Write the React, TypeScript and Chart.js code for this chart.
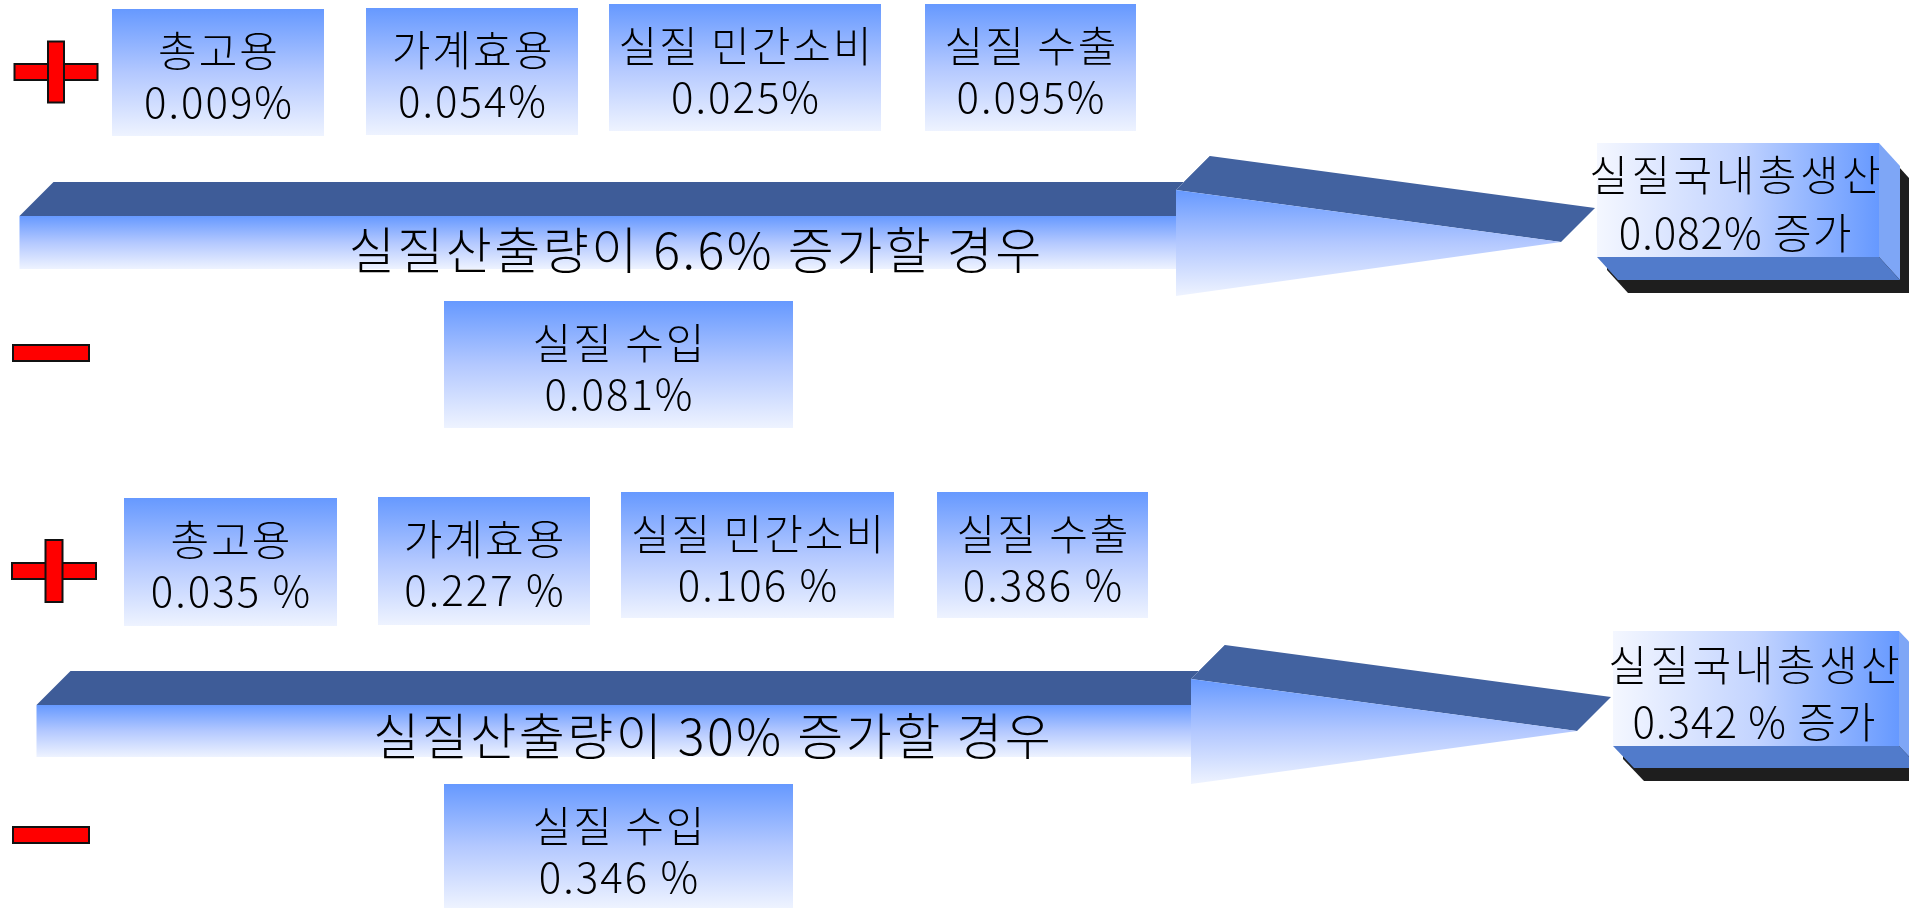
import React, { useEffect, useRef } from "react";
import { Chart, registerables } from "chart.js";

Chart.register(...registerables);

const W = 1909;
const H = 910;

// ---- data ----
const effectCategories = ["총고용", "가계효용", "실질 민간소비", "실질 수출"];
const effectValuesA = ["0.009%", "0.054%", "0.025%", "0.095%"];
const effectValuesB = ["0.035 %", "0.227 %", "0.106 %", "0.386 %"];
const importCategory = "실질 수입";
const importValues = ["0.081%", "0.346 %"];
const outputScenarios = ["실질산출량이 6.6% 증가할 경우", "실질산출량이 30% 증가할 경우"];
const gdpCategory = "실질국내총생산";
const gdpValues = ["0.082% 증가", "0.342 % 증가"];

// ---- layout (diagram coordinates, same units as the scales) ----
const LAYOUT = [
  {
    boxes: [
      [112, 9, 324, 136],
      [366, 8, 578, 135],
      [609, 4, 881, 131],
      [925, 4, 1136, 131],
    ],
    importBox: [444, 301, 793, 428],
    plus: { cx: 56, cy: 72, hw: 83, hh: 16, vw: 16, vh: 61 },
    minus: [13, 345, 89, 361],
    arrow: { x0: 19.5, x1: 1176, yTop: 216, yBot: 269, headTop: 190, headBot: 296, tipX: 1561, tipY: 242, dx: 34, dy: -34, textX: 695, textY: 250 },
    gdp: { x0: 1597, y0: 143, x1: 1879, y1: 257, dx: 21, dy: 23, tx: 1735, l1: 175, l2: 233 },
  },
  {
    boxes: [
      [124, 498, 337, 626],
      [378, 497, 590, 625],
      [621, 492, 894, 618],
      [937, 492, 1148, 618],
    ],
    importBox: [444, 784, 793, 908],
    plus: { cx: 54, cy: 571, hw: 84, hh: 16, vw: 17, vh: 62 },
    minus: [13, 827, 89, 843],
    arrow: { x0: 36.5, x1: 1191, yTop: 705, yBot: 757, headTop: 679, headBot: 784, tipX: 1577, tipY: 731, dx: 34, dy: -34, textX: 712, textY: 736 },
    gdp: { x0: 1613, y0: 631, x1: 1899, y1: 746, dx: 21, dy: 22, tx: 1754, l1: 665, l2: 722 },
  },
];

const FAMILY = '"Noto Sans CJK KR", "Noto Sans", sans-serif';

const diagramPlugin = {
  id: "diagram",
  afterDraw(chart: any) {
    const ctx: any = chart.ctx;
    const xs = chart.scales.x;
    const ys = chart.scales.y;
    const X = (v: number) => xs.getPixelForValue(v);
    const Y = (v: number) => ys.getPixelForValue(v);

    const poly = (pts: number[][], fill: any) => {
      ctx.beginPath();
      pts.forEach((p, i) => (i ? ctx.lineTo(X(p[0]), Y(p[1])) : ctx.moveTo(X(p[0]), Y(p[1]))));
      ctx.closePath();
      ctx.fillStyle = fill;
      ctx.fill();
    };
    const vgrad = (y0: number, y1: number) => {
      const g = ctx.createLinearGradient(0, Y(y0), 0, Y(y1));
      g.addColorStop(0, "#6699FF");
      g.addColorStop(0.5, "#B3C8FF");
      g.addColorStop(1, "#EEF3FF");
      return g;
    };
    const text = (s: string, x: number, y: number, size: number, ls: number) => {
      ctx.font = `300 ${size}px ${FAMILY}`;
      ctx.letterSpacing = `${ls}px`;
      ctx.fillStyle = "#000000";
      ctx.textAlign = "center";
      ctx.textBaseline = "middle";
      ctx.fillText(s, X(x) + ls / 2, Y(y));
      ctx.letterSpacing = "0px";
    };
    const redRect = (x0: number, y0: number, x1: number, y1: number) => {
      ctx.fillStyle = "#FF0000";
      ctx.strokeStyle = "#111111";
      ctx.lineWidth = 2;
      ctx.fillRect(X(x0), Y(y0), X(x1) - X(x0), Y(y1) - Y(y0));
      ctx.strokeRect(X(x0), Y(y0), X(x1) - X(x0), Y(y1) - Y(y0));
    };
    const gradBox = (b: number[], l1: string, l2: string) => {
      const [x0, y0, x1, y1] = b;
      ctx.fillStyle = vgrad(y0, y1);
      ctx.fillRect(X(x0), Y(y0), X(x1) - X(x0), Y(y1) - Y(y0));
      const cx = (x0 + x1) / 2;
      text(l1, cx, y0 + 42, 42, 2);
      text(l2, cx, y0 + 93, 42, 2);
    };

    ctx.save();
    LAYOUT.forEach((L, i) => {
      const values = i === 0 ? effectValuesA : effectValuesB;
      // plus sign
      const p = L.plus;
      const hx0 = p.cx - p.hw / 2, hy0 = p.cy - p.hh / 2;
      const vx0 = p.cx - p.vw / 2, vy0 = p.cy - p.vh / 2;
      redRect(hx0, hy0, hx0 + p.hw, hy0 + p.hh);
      redRect(vx0, vy0, vx0 + p.vw, vy0 + p.vh);
      // minus sign
      redRect(L.minus[0], L.minus[1], L.minus[2], L.minus[3]);

      // positive effect boxes
      effectCategories.forEach((c, k) => gradBox(L.boxes[k], c, values[k]));
      // import box
      gradBox(L.importBox, importCategory, importValues[i]);

      // 3D arrow
      const a = L.arrow;
      poly(
        [
          [a.x0, a.yTop],
          [a.x0 + a.dx, a.yTop + a.dy],
          [a.x1 + a.dx, a.yTop + a.dy],
          [a.x1 + a.dx, a.headTop + a.dy],
          [a.x1, a.headTop],
          [a.x1, a.yTop],
        ],
        "#3E5C98"
      );
      poly(
        [
          [a.x1, a.headTop],
          [a.x1 + a.dx, a.headTop + a.dy],
          [a.tipX + a.dx, a.tipY + a.dy],
          [a.tipX, a.tipY],
        ],
        "#4262A0"
      );
      poly(
        [
          [a.x0, a.yTop],
          [a.x1 + 1, a.yTop],
          [a.x1 + 1, a.yBot],
          [a.x0, a.yBot],
        ],
        vgrad(a.yTop, a.yBot)
      );
      poly(
        [
          [a.x1, a.headTop],
          [a.tipX, a.tipY],
          [a.x1, a.headBot],
        ],
        vgrad(a.headTop, a.headBot)
      );
      text(outputScenarios[i], a.textX, a.textY, 50, 2.5);

      // GDP 3D box
      const g = L.gdp;
      const sx = 10, sy = 13;
      poly(
        [
          [g.x0 + sx, g.y0 + sy],
          [g.x1 + sx, g.y0 + sy],
          [g.x1 + g.dx + sx, g.y0 + g.dy + sy],
          [g.x1 + g.dx + sx, g.y1 + g.dy + sy],
          [g.x0 + g.dx + sx, g.y1 + g.dy + sy],
          [g.x0 + sx, g.y1 + sy],
        ],
        "#1E1E1E"
      );
      poly(
        [
          [g.x1, g.y0],
          [g.x1 + g.dx, g.y0 + g.dy],
          [g.x1 + g.dx, g.y1 + g.dy],
          [g.x1, g.y1],
        ],
        "#7EA6F6"
      );
      poly(
        [
          [g.x0, g.y1],
          [g.x1, g.y1],
          [g.x1 + g.dx, g.y1 + g.dy],
          [g.x0 + g.dx, g.y1 + g.dy],
        ],
        "#517BCB"
      );
      const hg = ctx.createLinearGradient(X(g.x0), 0, X(g.x1), 0);
      hg.addColorStop(0, "#F4F7FF");
      hg.addColorStop(0.5, "#C3D4FF");
      hg.addColorStop(1, "#6699FF");
      poly(
        [
          [g.x0, g.y0],
          [g.x1, g.y0],
          [g.x1, g.y1],
          [g.x0, g.y1],
        ],
        hg
      );
      text(gdpCategory, g.tx, g.l1, 42, 3.5);
      text(gdpValues[i], g.tx, g.l2, 42, 1);
    });
    ctx.restore();
  },
};

export default function App() {
  const ref = useRef<HTMLCanvasElement | null>(null);
  useEffect(() => {
    document.body.style.margin = "0";
    document.body.style.overflow = "hidden";
    const canvas = ref.current!;
    const chart = new Chart(canvas, {
      type: "scatter",
      data: { datasets: [{ data: [], pointRadius: 0 }] },
      options: {
        animation: false,
        responsive: false,
        devicePixelRatio: 1,
        layout: { padding: 0 },
        events: [],
        plugins: { legend: { display: false }, tooltip: { enabled: false }, title: { display: false } },
        scales: {
          x: { type: "linear", min: 0, max: W, display: false },
          y: { type: "linear", min: 0, max: H, reverse: true, display: false },
        },
      },
      plugins: [diagramPlugin],
    } as any);
    return () => chart.destroy();
  }, []);
  return (
    <div style={{ width: W, height: H, background: "#ffffff" }}>
      <canvas ref={ref} width={W} height={H} style={{ display: "block", width: W, height: H }} />
    </div>
  );
}
